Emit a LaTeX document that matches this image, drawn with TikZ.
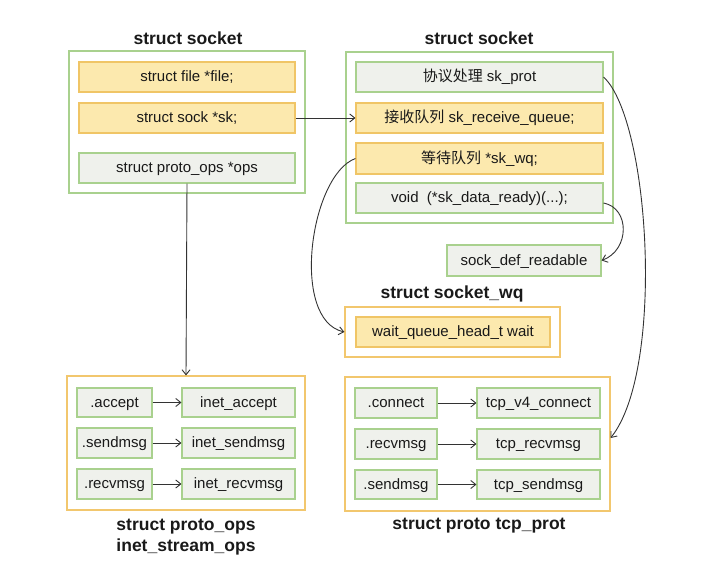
\documentclass[tikz,border=0pt]{standalone}
\usepackage{fontspec}
\setmainfont{Liberation Sans}
\newfontfamily\cjk{Noto Sans CJK SC}
\usetikzlibrary{arrows.meta}
\definecolor{yfill}{HTML}{FCE9AE}
\definecolor{yline}{HTML}{F0C566}
\definecolor{gline}{HTML}{A9D18E}
\definecolor{gfill}{HTML}{EFF1EC}
\definecolor{oline}{HTML}{F2C76E}
\definecolor{arr}{HTML}{333333}
\tikzset{
  x=1pt, y=-1pt,
  base/.style={rectangle, inner sep=0pt, font=\fontsize{15}{17}\selectfont, line width=1.1pt, text=black!90, text height=10.5pt, text depth=1pt},
  ybox/.style={base, draw=yline, fill=yfill},
  gbox/.style={base, draw=gline, fill=gfill},
  gouter/.style={rectangle, draw=gline, fill=white, line width=1.1pt, inner sep=0pt},
  oouter/.style={rectangle, draw=oline, fill=white, line width=1.1pt, inner sep=0pt},
  ttl/.style={font=\fontsize{17.5}{20}\selectfont\bfseries, text=black!90, inner sep=0pt},
  conn/.style={draw=arr, line width=0.9pt, -{Straight Barb[length=5pt,width=8pt]}},
}
\begin{document}
\begin{tikzpicture}
\useasboundingbox (0,0) rectangle (709,578);
% left struct socket
\node[ttl] (t1) at (188,38) {struct socket};
\node[gouter, minimum width=236, minimum height=142] (ls) at (187,122) {};
\node[ybox, minimum width=216, minimum height=30] (file) at (187,77) {struct file *file;};
\node[ybox, minimum width=216, minimum height=30] (sk) at (187,118) {struct sock *sk;};
\node[gbox, minimum width=216, minimum height=30] (ops) at (187,168) {struct proto\_ops *ops};
% right struct socket
\node[ttl] (t2) at (479,38) {struct socket};
\node[gouter, minimum width=267, minimum height=171] (rs) at (479.5,137.5) {};
\node[gbox, minimum width=247, minimum height=30] (prot) at (479.5,77) {{\cjk 协议处理} sk\_prot};
\node[ybox, minimum width=247, minimum height=30] (recv) at (479.5,118) {{\cjk 接收队列} sk\_receive\_queue;};
\node[ybox, minimum width=247, minimum height=31] (wq) at (479.5,158.5) {{\cjk 等待队列} *sk\_wq;};
\node[gbox, minimum width=247, minimum height=30] (ready) at (479.5,198) {void\ \ (*sk\_data\_ready)(...);};
% sock_def_readable
\node[gbox, minimum width=154, minimum height=31] (sdr) at (524,260.5) {sock\_def\_readable};
% socket_wq
\node[ttl] (t3) at (452,294) {struct socket\_wq};
\node[oouter, minimum width=215, minimum height=50] (wqb) at (452.5,332) {};
\node[ybox, minimum width=194, minimum height=30] (wait) at (453,332) {wait\_queue\_head\_t wait};
% bottom left proto_ops
\node[oouter, minimum width=238, minimum height=134] (bl) at (186,443) {};
\node[gbox, minimum width=75, minimum height=29] (a1) at (114.5,402.5) {.accept};
\node[gbox, minimum width=75, minimum height=30] (a2) at (114.5,443) {.sendmsg};
\node[gbox, minimum width=75, minimum height=30] (a3) at (114.5,484) {.recvmsg};
\node[gbox, minimum width=113, minimum height=29] (b1) at (238.5,402.5) {inet\_accept};
\node[gbox, minimum width=113, minimum height=30] (b2) at (238.5,443) {inet\_sendmsg};
\node[gbox, minimum width=113, minimum height=30] (b3) at (238.5,484) {inet\_recvmsg};
\node[ttl] (t4) at (186,527) {struct proto\_ops};
\node[ttl] (t5) at (186,547) {inet\_stream\_ops};
% bottom right tcp_prot
\node[oouter, minimum width=265, minimum height=134] (br) at (477.5,444) {};
\node[gbox, minimum width=82, minimum height=30] (c1) at (396,403) {.connect};
\node[gbox, minimum width=82, minimum height=30] (c2) at (396,444) {.recvmsg};
\node[gbox, minimum width=82, minimum height=29] (c3) at (396,484.5) {.sendmsg};
\node[gbox, minimum width=123, minimum height=30] (d1) at (538.5,403) {tcp\_v4\_connect};
\node[gbox, minimum width=123, minimum height=30] (d2) at (538.5,444) {tcp\_recvmsg};
\node[gbox, minimum width=123, minimum height=29] (d3) at (538.5,484.5) {tcp\_sendmsg};
\node[ttl] (t6) at (479,526) {struct proto tcp\_prot};
% connectors
\draw[conn] (sk.east) -- (recv.west);
\draw[conn] (ops.south) -- (bl.north);
\draw[conn] (a1.east) -- (b1.west);
\draw[conn] (a2.east) -- (b2.west);
\draw[conn] (a3.east) -- (b3.west);
\draw[conn] (c1.east) -- (d1.west);
\draw[conn] (c2.east) -- (d2.west);
\draw[conn] (c3.east) -- (d3.west);
\draw[conn] (prot.east) .. controls (650,120) and (665,370) .. ([yshift=6pt]br.east);
\draw[conn] ([yshift=-5pt]ready.east) .. controls (630,208) and (630,250) .. (sdr.east);
\draw[conn] (wq.west) .. controls (310,175) and (290,320) .. (wqb.west);
\end{tikzpicture}
\end{document}
